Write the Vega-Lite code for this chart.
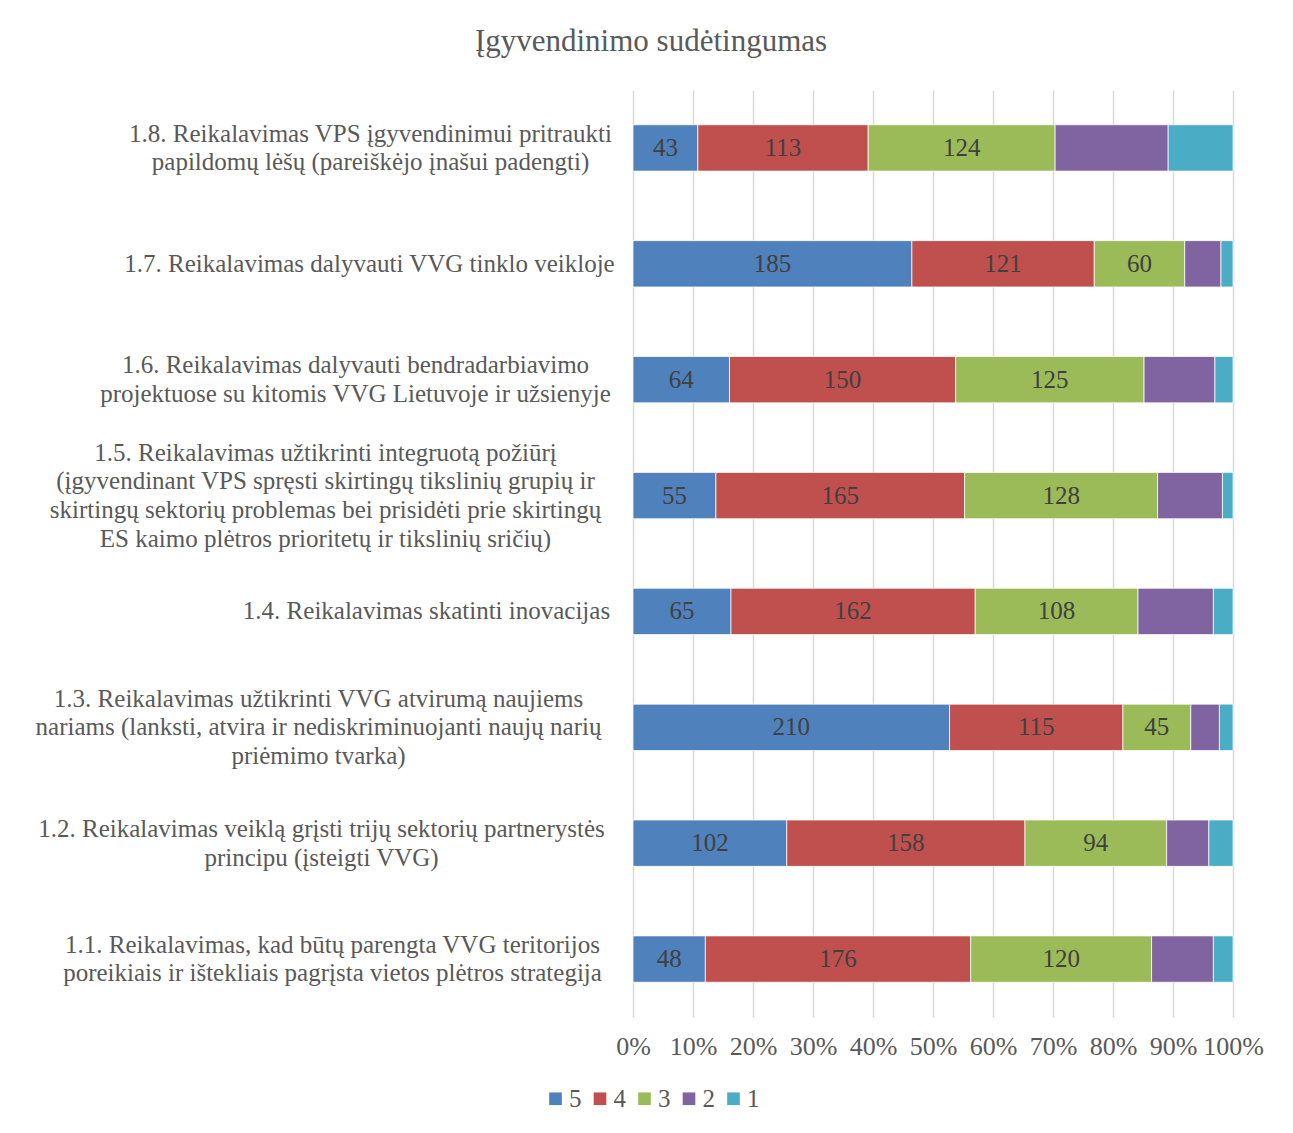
{
  "$schema": "https://vega.github.io/schema/vega-lite/v6.json",
  "autosize": {"type": "none"},
  "width": 600,
  "height": 927,
  "padding": {"left": 633, "top": 90, "right": 60, "bottom": 116},
  "background": "white",
  "config": {"view": {"stroke": null}, "font": "Liberation Serif"},
  "title": {"text": "Įgyvendinimo sudėtingumas", "fontSize": 31, "font": "Liberation Serif", "fontWeight": "normal", "color": "#595959", "anchor": "middle", "frame": "group", "dx": -282, "offset": 32},
  "datasets": {
    "labels": [
      {"cat": "1.8", "label": "1.8. Reikalavimas VPS įgyvendinimui pritraukti|papildomų lėšų (pareiškėjo įnašui padengti)"},
      {"cat": "1.7", "label": "1.7. Reikalavimas dalyvauti VVG tinklo veikloje"},
      {"cat": "1.6", "label": "1.6. Reikalavimas dalyvauti bendradarbiavimo|projektuose su kitomis VVG Lietuvoje ir užsienyje"},
      {"cat": "1.5", "label": "1.5. Reikalavimas užtikrinti integruotą požiūrį|(įgyvendinant VPS spręsti skirtingų tikslinių grupių ir|skirtingų sektorių problemas bei prisidėti prie skirtingų|ES kaimo plėtros prioritetų ir tikslinių sričių)"},
      {"cat": "1.4", "label": "1.4. Reikalavimas skatinti inovacijas"},
      {"cat": "1.3", "label": "1.3. Reikalavimas užtikrinti VVG atvirumą naujiems|nariams (lanksti, atvira ir nediskriminuojanti naujų narių|priėmimo tvarka)"},
      {"cat": "1.2", "label": "1.2. Reikalavimas veiklą grįsti trijų sektorių partnerystės|principu (įsteigti VVG)"},
      {"cat": "1.1", "label": "1.1. Reikalavimas, kad būtų parengta VVG teritorijos|poreikiais ir ištekliais pagrįsta vietos plėtros strategija"}
    ]
  },
  "data": {
    "values": [
      {"cat": "1.8", "rating": "5", "ord": 1, "n": 43},
      {"cat": "1.8", "rating": "4", "ord": 2, "n": 113},
      {"cat": "1.8", "rating": "3", "ord": 3, "n": 124},
      {"cat": "1.8", "rating": "2", "ord": 4, "n": 75},
      {"cat": "1.8", "rating": "1", "ord": 5, "n": 43},
      {"cat": "1.7", "rating": "5", "ord": 1, "n": 185},
      {"cat": "1.7", "rating": "4", "ord": 2, "n": 121},
      {"cat": "1.7", "rating": "3", "ord": 3, "n": 60},
      {"cat": "1.7", "rating": "2", "ord": 4, "n": 24},
      {"cat": "1.7", "rating": "1", "ord": 5, "n": 8},
      {"cat": "1.6", "rating": "5", "ord": 1, "n": 64},
      {"cat": "1.6", "rating": "4", "ord": 2, "n": 150},
      {"cat": "1.6", "rating": "3", "ord": 3, "n": 125},
      {"cat": "1.6", "rating": "2", "ord": 4, "n": 47},
      {"cat": "1.6", "rating": "1", "ord": 5, "n": 12},
      {"cat": "1.5", "rating": "5", "ord": 1, "n": 55},
      {"cat": "1.5", "rating": "4", "ord": 2, "n": 165},
      {"cat": "1.5", "rating": "3", "ord": 3, "n": 128},
      {"cat": "1.5", "rating": "2", "ord": 4, "n": 43},
      {"cat": "1.5", "rating": "1", "ord": 5, "n": 7},
      {"cat": "1.4", "rating": "5", "ord": 1, "n": 65},
      {"cat": "1.4", "rating": "4", "ord": 2, "n": 162},
      {"cat": "1.4", "rating": "3", "ord": 3, "n": 108},
      {"cat": "1.4", "rating": "2", "ord": 4, "n": 50},
      {"cat": "1.4", "rating": "1", "ord": 5, "n": 13},
      {"cat": "1.3", "rating": "5", "ord": 1, "n": 210},
      {"cat": "1.3", "rating": "4", "ord": 2, "n": 115},
      {"cat": "1.3", "rating": "3", "ord": 3, "n": 45},
      {"cat": "1.3", "rating": "2", "ord": 4, "n": 19},
      {"cat": "1.3", "rating": "1", "ord": 5, "n": 9},
      {"cat": "1.2", "rating": "5", "ord": 1, "n": 102},
      {"cat": "1.2", "rating": "4", "ord": 2, "n": 158},
      {"cat": "1.2", "rating": "3", "ord": 3, "n": 94},
      {"cat": "1.2", "rating": "2", "ord": 4, "n": 28},
      {"cat": "1.2", "rating": "1", "ord": 5, "n": 16},
      {"cat": "1.1", "rating": "5", "ord": 1, "n": 48},
      {"cat": "1.1", "rating": "4", "ord": 2, "n": 176},
      {"cat": "1.1", "rating": "3", "ord": 3, "n": 120},
      {"cat": "1.1", "rating": "2", "ord": 4, "n": 41},
      {"cat": "1.1", "rating": "1", "ord": 5, "n": 13}
    ]
  },
  "transform": [
    {"lookup": "cat", "from": {"data": {"name": "labels"}, "key": "cat", "fields": ["label"]}},
    {"stack": "n", "groupby": ["cat"], "sort": [{"field": "ord", "order": "ascending"}], "offset": "normalize", "as": ["x0", "x1"]},
    {"calculate": "(datum.x0 + datum.x1) / 2", "as": "xm"}
  ],
  "encoding": {
    "y": {
      "field": "label",
      "type": "nominal",
      "sort": "descending",
      "scale": {"paddingInner": 0.6, "paddingOuter": 0.3},
      "axis": {
        "title": null,
        "domain": false,
        "ticks": false,
        "grid": false,
        "labelExpr": "split(datum.value, '|')",
        "labelAlign": "center",
        "labelBaseline": "middle",
        "labelPadding": {"expr": "substring(datum.value,0,3)=='1.8' ? 263 : substring(datum.value,0,3)=='1.7' ? 264 : substring(datum.value,0,3)=='1.6' ? 278 : substring(datum.value,0,3)=='1.5' ? 308 : substring(datum.value,0,3)=='1.4' ? 207 : substring(datum.value,0,3)=='1.3' ? 315 : substring(datum.value,0,3)=='1.2' ? 312 : 301"},
        "labelOffset": {"expr": "-(length(split(datum.value, '|')) - 1) * 14.35"},
        "labelFont": "Liberation Serif",
        "labelFontSize": 25,
        "labelColor": "#595959",
        "labelLineHeight": 28.7,
        "labelLimit": 0,
        "labelOverlap": false
      }
    }
  },
  "layer": [
    {
      "mark": {"type": "bar", "stroke": "white", "strokeWidth": 0.75},
      "encoding": {
        "x": {
          "field": "x0",
          "type": "quantitative",
          "scale": {"domain": [0, 1], "nice": false},
          "axis": {
            "title": null,
            "values": [0, 0.1, 0.2, 0.3, 0.4, 0.5, 0.6, 0.7, 0.8, 0.9, 1],
            "format": ".0%",
            "grid": true,
            "gridColor": "#d9d9d9",
            "gridWidth": 1.5,
            "domain": false,
            "ticks": false,
            "labelPadding": 16,
            "labelFont": "Liberation Serif",
            "labelFontSize": 26,
            "labelColor": "#595959",
            "labelFlush": false,
            "labelOverlap": false
          }
        },
        "x2": {"field": "x1"},
        "color": {
          "field": "rating",
          "type": "nominal",
          "scale": {"domain": ["5", "4", "3", "2", "1"], "range": ["#4F81BD", "#C0504D", "#9BBB59", "#8064A2", "#4BACC6"]},
          "legend": {
            "orient": "none",
            "legendX": -90,
            "legendY": 996,
            "direction": "horizontal",
            "title": null,
            "symbolType": "square",
            "symbolSize": 160,
            "symbolStrokeWidth": 0,
            "labelFont": "Liberation Serif",
            "labelFontSize": 25,
            "labelColor": "#595959",
            "labelOffset": 1,
            "columnPadding": 5.5
          }
        }
      }
    },
    {
      "transform": [{"filter": "datum.ord <= 3"}],
      "mark": {"type": "text", "font": "Liberation Serif", "fontSize": 25, "color": "#404040", "baseline": "middle", "align": "center"},
      "encoding": {
        "x": {"field": "xm", "type": "quantitative"},
        "text": {"field": "n", "type": "quantitative"}
      }
    }
  ]
}
